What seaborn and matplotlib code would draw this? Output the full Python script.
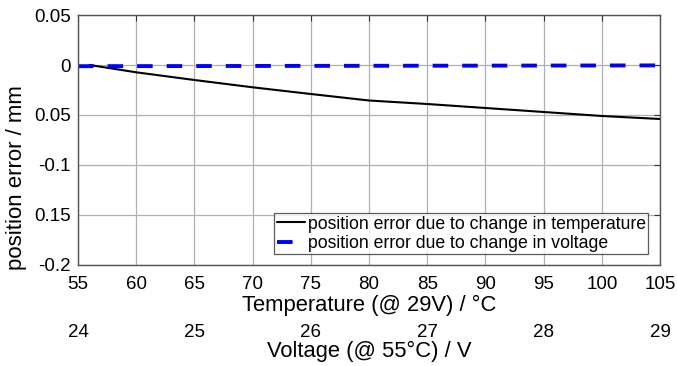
import numpy as np
import pandas as pd
import seaborn as sns
import matplotlib.pyplot as plt

# temperature sweep (@ 29V)
temp_c = [56, 60, 65, 70, 75, 80, 85, 90, 95, 100, 105]
err_temp = [0.0, -0.0073, -0.015, -0.0223, -0.029, -0.0355, -0.039, -0.043, -0.047, -0.051, -0.054]

# voltage sweep (@ 55°C)
volt_v = [24, 29]
err_volt = [-0.0012, -0.0004]

temp_ticks = [55, 60, 65, 70, 75, 80, 85, 90, 95, 100, 105]
volt_ticks = [24, 25, 26, 27, 28, 29]
y_ticks = [0.05, 0, -0.05, -0.1, -0.15, -0.2]
y_ticklabels = ['0.05', '0', '0.05', '-0.1', '0.15', '-0.2']


def volt_to_temp(v):
    return 55 + (np.asarray(v) - 24) * 10


def temp_to_volt(t):
    return 24 + (np.asarray(t) - 55) / 10


sns.set_style("white")
plt.rcParams['font.family'] = ['Liberation Sans', 'DejaVu Sans']
plt.rcParams['text.color'] = 'black'
plt.rcParams['axes.labelcolor'] = 'black'
plt.rcParams['xtick.labelcolor'] = 'black'
plt.rcParams['ytick.labelcolor'] = 'black'

df_t = pd.DataFrame({'x': temp_c, 'err': err_temp})
df_v = pd.DataFrame({'x': volt_to_temp(volt_v), 'err': err_volt})

fig = plt.figure(figsize=(6.77, 3.66), dpi=100)
ax = fig.add_axes([0.1152, 0.276, 0.8598, 0.683])

sns.lineplot(data=df_t, x='x', y='err', color='black', lw=1.5, ax=ax,
             label='position error due to change in temperature')
sns.lineplot(data=df_v, x='x', y='err', color='#0000ff', lw=2.8, ax=ax,
             linestyle=(0, (4, 3.6)),
             label='position error due to change in voltage')

ax.set_xlim(55, 105)
ax.set_ylim(-0.2, 0.05)
ax.set_xticks(temp_ticks)
ax.set_yticks(y_ticks)
ax.set_yticklabels(y_ticklabels)
ax.grid(True, color='#b0b0b0', lw=0.9)
ax.tick_params(direction='in', length=4, labelsize=13.5, top=True, right=True,
               color='#333333')
ax.tick_params(axis='x', pad=8)
ax.tick_params(axis='y', pad=5)
for s in ax.spines.values():
    s.set_color('#555555')
    s.set_linewidth(1.0)

ax.set_xlabel('Temperature (@ 29V) / °C', fontsize=15.8, labelpad=1)
ax.set_ylabel('position error / mm', fontsize=16)
ax.yaxis.set_label_coords(-0.088, 0.35)

sec = ax.secondary_xaxis(-0.235, functions=(temp_to_volt, volt_to_temp))
sec.set_xticks(volt_ticks)
sec.spines['bottom'].set_visible(False)
sec.tick_params(length=0, labelsize=13.5, pad=0)
sec.set_xlabel('Voltage (@ 55°C) / V', fontsize=15.8, labelpad=0)

leg = ax.legend(loc='lower right', fontsize=12.7, frameon=True, fancybox=False,
                handlelength=1.6, handletextpad=0.15, borderpad=0.15,
                labelspacing=0.12, borderaxespad=0.6,
                bbox_to_anchor=(0.998, 0.0))
leg.get_frame().set_edgecolor('#333333')
leg.get_frame().set_linewidth(0.9)

fig.savefig('out.png', dpi=100)
